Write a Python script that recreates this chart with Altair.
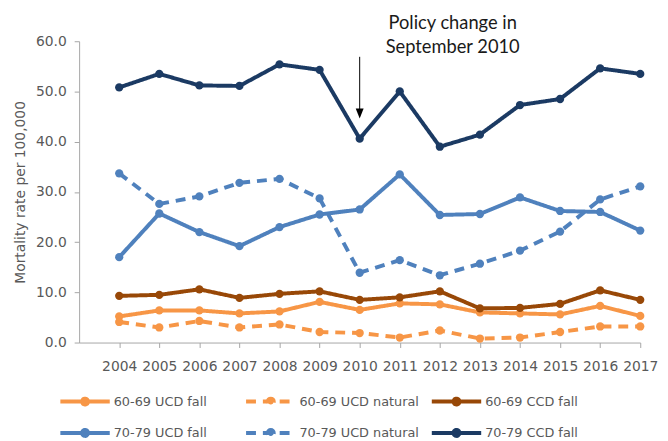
import altair as alt
import pandas as pd

years = list(range(2004, 2018))

series_names = [
    "60-69 UCD fall", "60-69 UCD natural", "60-69 CCD fall",
    "70-79 UCD fall", "70-79 UCD natural", "70-79 CCD fall",
]
series_colors = ["#F79646", "#F79646", "#984807", "#4F81BD", "#4F81BD", "#1B3A63"]
series_dash = [[1, 0], [10, 7], [1, 0], [1, 0], [10, 7], [1, 0]]

ucd_fall_60 = [5.2, 6.4, 6.4, 5.8, 6.2, 8.1, 6.5, 7.8, 7.6, 6.0, 5.8, 5.6, 7.3, 5.3]
ucd_natural_60 = [4.1, 3.0, 4.3, 3.0, 3.6, 2.1, 1.9, 1.0, 2.4, 0.8, 1.0, 2.1, 3.2, 3.2]
ccd_fall_60 = [9.3, 9.5, 10.6, 8.9, 9.7, 10.2, 8.5, 9.0, 10.2, 6.8, 6.9, 7.7, 10.4, 8.5]
ucd_fall_70 = [17.0, 25.7, 22.0, 19.2, 23.0, 25.5, 26.5, 33.5, 25.4, 25.6, 28.9, 26.2, 26.0, 22.3]
ucd_natural_70 = [33.7, 27.6, 29.1, 31.8, 32.6, 28.7, 13.9, 16.4, 13.4, 15.7, 18.3, 22.1, 28.5, 31.1]
ccd_fall_70 = [50.8, 53.5, 51.2, 51.1, 55.4, 54.3, 40.6, 50.0, 39.0, 41.4, 47.3, 48.5, 54.6, 53.5]

y_ticks = [0, 10, 20, 30, 40, 50, 60]

annotation_text = ["Policy change in", "September 2010"]

all_values = [ucd_fall_60, ucd_natural_60, ccd_fall_60, ucd_fall_70, ucd_natural_70, ccd_fall_70]
rows = []
for name, vals in zip(series_names, all_values):
    for yr, v in zip(years, vals):
        rows.append({"series": name, "year": yr, "value": v})
df = pd.DataFrame(rows)

x_scale = alt.Scale(domain=[2003, 2017], nice=False, zero=False)
y_scale = alt.Scale(domain=[0, 60], nice=False)

# symbol path wider than the unit box: line from -1 to 3, dot at 1
legend_path = "M-1,0H3M0.76,0A0.24,0.24,0,1,1,1.24,0A0.24,0.24,0,1,1,0.76,0Z"
leg = alt.Legend(
    title=None, orient="none", legendX=-21, legendY=350, columns=3, direction="horizontal",
    symbolType=legend_path, symbolSize=625, symbolStrokeWidth=4,
    gridAlign="all", columnPadding=4, rowPadding=6,
    labelFont="DejaVu Sans", labelFontSize=13, labelColor="#595959",
    labelOffset=27, symbolOpacity=1,
)

x_enc = alt.X("year:Q", scale=x_scale, title=None,
              axis=alt.Axis(values=years, format="d", grid=False, domainColor="#A6A6A6",
                            tickColor="#A6A6A6", tickSize=5, labelPadding=12,
                            labelFont="DejaVu Sans", labelFontSize=14, labelColor="#595959",
                            labelFlush=False, labelOverlap=False))
y_enc = alt.Y("value:Q", scale=y_scale, title="Mortality rate per 100,000",
              axis=alt.Axis(values=y_ticks, format=".1f", grid=False, domainColor="#A6A6A6",
                            tickColor="#A6A6A6", tickSize=5, labelPadding=8,
                            labelFont="DejaVu Sans", labelFontSize=14, labelColor="#595959",
                            titleFont="DejaVu Sans", titleFontSize=14, titleColor="#595959",
                            titleFontWeight="normal", titlePadding=8))

color_scale = alt.Scale(domain=series_names, range=series_colors)
dash_scale = alt.Scale(domain=series_names, range=series_dash)

base = alt.Chart(df).encode(x=x_enc, y=y_enc)

lines = base.mark_line(strokeWidth=4).encode(
    stroke=alt.Stroke("series:N", scale=color_scale, legend=leg),
    strokeDash=alt.StrokeDash("series:N", scale=dash_scale, legend=leg),
)
points = base.mark_point(filled=True, size=70, opacity=1).encode(
    fill=alt.Fill("series:N", scale=color_scale, legend=leg),
)

arrow_df = pd.DataFrame({"year": [2010], "value": [56.9], "value2": [45.6]})
arrow_line = alt.Chart(arrow_df).mark_rule(color="black", strokeWidth=1).encode(
    x="year:Q", y="value:Q", y2="value2:Q")
arrow_head = alt.Chart(arrow_df).mark_point(
    shape="M-0.8,-1L0.8,-1L0,1Z", size=100, filled=True, color="black", opacity=1
).encode(x="year:Q", y=alt.Y("value2:Q"))

text_df = pd.DataFrame({"year": [2012.32, 2012.32], "value": [63.7, 58.8], "label": annotation_text})
text = alt.Chart(text_df).mark_text(font="Lato", fontSize=18.5, color="#1a1a1a", align="center",
                                    baseline="middle").encode(
    x="year:Q", y="value:Q", text="label:N")

chart = alt.layer(lines, points, arrow_line, arrow_head, text).properties(
    width=568, height=305,
    padding={"left": 72, "top": 31, "right": 20, "bottom": 97},
    autosize=alt.AutoSizeParams(type="none"),
).configure_view(stroke=None)

chart.save("out.html", embed_options={"renderer": "svg", "actions": False})
